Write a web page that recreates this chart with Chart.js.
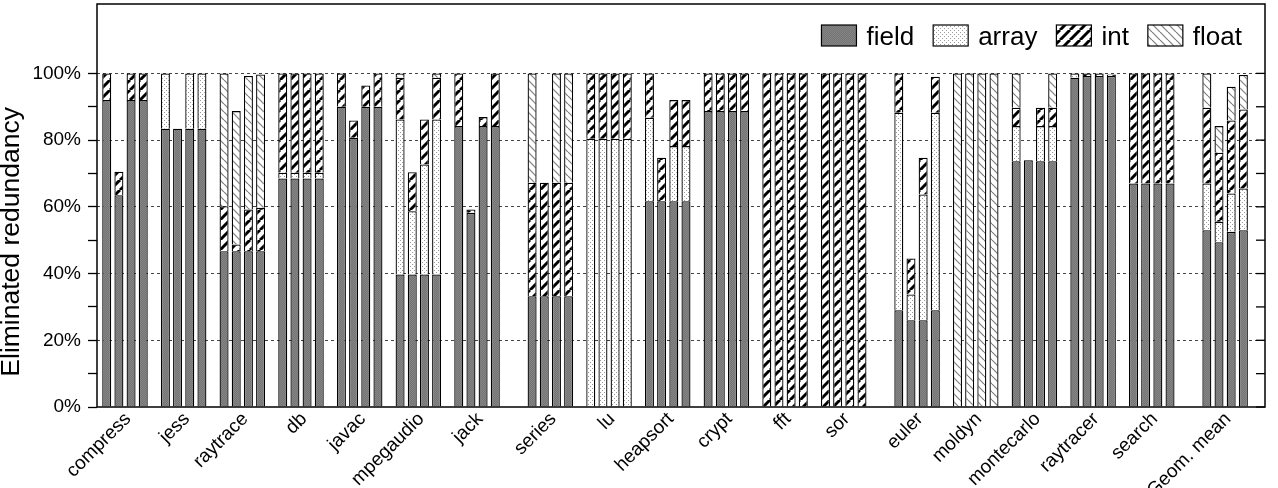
<!DOCTYPE html>
<html>
<head>
<meta charset="utf-8">
<script src="https://cdn.jsdelivr.net/npm/chart.js@4.4.0/dist/chart.umd.min.js"></script>
<style>
  html, body { margin: 0; padding: 0; background: #fff; }
  #wrap { width: 1278px; height: 488px; }
</style>
</head>
<body>
<div id="wrap"><canvas id="chart" width="1278" height="488"></canvas></div>
<script>
// benchmarks, one group of 4 bars each
const benchmarks = ['compress', 'jess', 'raytrace', 'db', 'javac', 'mpegaudio', 'jack',
  'series', 'lu', 'heapsort', 'crypt', 'fft', 'sor',
  'euler', 'moldyn', 'montecarlo', 'raytracer', 'search', 'Geom. mean'];
// suite of each benchmark (a wider gap separates suites)
const suites = [0, 0, 0, 0, 0, 0, 0, 1, 1, 1, 1, 1, 1, 2, 2, 2, 2, 2, 3];
const kinds = ['field', 'array', 'int', 'float'];
const yTicks = [0, 10, 20, 30, 40, 50, 60, 70, 80, 90, 100];
const yTitle = 'Eliminated redundancy';

// eliminated redundancy (%) per kind, 4 bars per benchmark
const fieldVals = [
  [92, 63.5, 92, 92], [83.4, 83.4, 83.4, 83.4], [46.7, 46.7, 46.7, 46.7], [68.5, 68.5, 68.5, 68.5],
  [90, 80.7, 90, 90], [39.7, 39.7, 39.7, 39.7], [84.2, 58.2, 84.2, 84.2],
  [33.2, 33.2, 33.2, 33.2], [0, 0, 0, 0], [61.7, 61.7, 61.7, 61.7], [88.7, 88.7, 88.7, 88.7],
  [0, 0, 0, 0], [0, 0, 0, 0],
  [29, 26, 26, 29], [0, 0, 0, 0], [73.7, 74, 73.7, 73.7], [98.7, 99.2, 99.2, 99.2],
  [67, 67, 67, 67], [53, 49.4, 52.5, 53],
];
const arrayVals = [
  [0, 0, 0, 0], [16.6, 0, 16.6, 16.6], [0, 0, 0, 0], [1.7, 1.7, 1.7, 1.7],
  [0, 0, 0, 0], [46.5, 19, 33, 46.5], [0, 0, 0, 0],
  [0, 0, 0, 0], [80.4, 80.4, 80.4, 80.4], [25, 0, 16.5, 16.5], [0, 0, 0, 0],
  [0, 0, 0, 0], [0, 0, 0, 0],
  [59.2, 7.7, 37.7, 59.2], [0, 0, 0, 0], [10.5, 0, 10.5, 10.5], [1.3, 0, 0, 0],
  [0, 0, 0, 0], [14, 6.1, 11.5, 12.5],
];
const intVals = [
  [8, 7, 8, 8], [0, 0, 0, 0], [13.5, 2, 12.5, 13], [29.8, 29.8, 29.8, 29.8],
  [10, 5.2, 6.4, 10], [12.5, 11.7, 13.5, 12.5], [15.8, 1, 2.7, 15.8],
  [34, 34, 34, 34], [19.6, 19.6, 19.6, 19.6], [13.3, 13, 13.8, 13.8], [11.3, 11.3, 11.3, 11.3],
  [100, 100, 100, 100], [100, 100, 100, 100],
  [11.8, 10.8, 11, 10.8], [0, 0, 0, 0], [5.5, 0, 5.5, 5.5], [0, 0.8, 0.8, 0.5],
  [33, 33, 33, 33], [22.7, 20.7, 21.9, 23.7],
];
const floatVals = [
  [0, 0, 0, 0], [0, 0, 0, 0], [39.8, 40, 40, 40], [0, 0, 0, 0],
  [0, 0, 0, 0], [1.3, 0, 0, 1.3], [0, 0, 0, 0],
  [32.8, 0, 32.8, 32.8], [0, 0, 0, 0], [0, 0, 0, 0], [0, 0, 0, 0],
  [0, 0, 0, 0], [0, 0, 0, 0],
  [0, 0, 0, 0], [100, 100, 100, 100], [10.3, 0, 0, 10.3], [0, 0, 0, 0],
  [0, 0, 0, 0], [10.3, 8, 10.1, 10.3],
];

const FONT = '"Liberation Sans", Arial, Helvetica, sans-serif';

// fill patterns like the gnuplot ones
function makePattern(w, h, draw) {
  const c = document.createElement('canvas');
  c.width = w; c.height = h;
  const g = c.getContext('2d');
  draw(g, w, h);
  return g.createPattern(c, 'repeat');
}
const fills = {
  field: makePattern(2, 2, g => {
    g.fillStyle = '#747474'; g.fillRect(0, 0, 2, 2);
    g.fillStyle = '#858585'; g.fillRect(0, 0, 1, 1); g.fillRect(1, 1, 1, 1);
  }),
  array: makePattern(4, 4, g => {
    g.fillStyle = '#fff'; g.fillRect(0, 0, 4, 4);
    g.fillStyle = '#9a9a9a'; g.fillRect(0, 0, 1, 1); g.fillRect(2, 2, 1, 1);
  }),
  int: makePattern(10, 10, (g, w, h) => {
    g.fillStyle = '#fff'; g.fillRect(0, 0, w, h);
    g.strokeStyle = '#000'; g.lineWidth = 3;
    for (const o of [-w, 0, w]) { g.beginPath(); g.moveTo(o, h); g.lineTo(o + w, 0); g.stroke(); }
  }),
  float: makePattern(8, 8, (g, w, h) => {
    g.fillStyle = '#fff'; g.fillRect(0, 0, w, h);
    g.strokeStyle = '#808080'; g.lineWidth = 1.2;
    for (const o of [-w, 0, w]) { g.beginPath(); g.moveTo(o, 0); g.lineTo(o + w, h); g.stroke(); }
  }),
};

const xPos = benchmarks.map((_, i) => i + suites[i] * 0.25);
const valsByKind = { field: fieldVals, array: arrayVals, int: intVals, float: floatVals };

// one stack per bar slot, bottom to top: field, array, int, float
const datasets = [];
for (let b = 0; b < 4; b++) {
  for (const k of kinds) {
    datasets.push({
      label: k,
      stack: 'bar' + b,
      data: xPos.map((x, i) => ({ x, y: valsByKind[k][i][b] || null })),
      backgroundColor: fills[k],
      borderColor: '#000',
      borderWidth: 1.3,
    });
  }
}

// frame, inward right ticks, y title and legend inside the plot
const framePlugin = {
  id: 'frame',
  afterDraw(chart) {
    const { ctx, chartArea: a } = chart;
    const y = chart.scales.y;
    ctx.save();
    ctx.strokeStyle = '#000';
    ctx.lineWidth = 1.5;
    ctx.strokeRect(a.left, a.top, a.right - a.left, a.bottom - a.top);
    ctx.lineWidth = 1.3;
    y.ticks.forEach(t => {
      const py = y.getPixelForValue(t.value);
      ctx.beginPath(); ctx.moveTo(a.right - 9, py); ctx.lineTo(a.right, py); ctx.stroke();
    });

    // y title, centred a little below the middle like the original
    ctx.save();
    ctx.translate(12, y.getPixelForValue(49.5));
    ctx.rotate(-Math.PI / 2);
    ctx.font = '26.5px ' + FONT;
    ctx.fillStyle = '#000';
    ctx.textAlign = 'center';
    ctx.textBaseline = 'middle';
    ctx.fillText(yTitle, 0, 0);
    ctx.restore();

    // legend
    ctx.font = '26px ' + FONT;
    ctx.textBaseline = 'alphabetic';
    const boxW = 35, boxH = 21, gap = 10, itemGap = 19;
    const widths = kinds.map(k => ctx.measureText(k).width);
    const total = widths.reduce((s, w) => s + boxW + gap + w, 0) + itemGap * (kinds.length - 1);
    let x = a.right - 23 - total;
    const top = a.top + 21;
    kinds.forEach((k, i) => {
      ctx.fillStyle = fills[k];
      ctx.fillRect(x, top, boxW, boxH);
      ctx.strokeStyle = '#000'; ctx.lineWidth = 1.2;
      ctx.strokeRect(x, top, boxW, boxH);
      ctx.fillStyle = '#000';
      ctx.fillText(k, x + boxW + gap, top + boxH - 1);
      x += boxW + gap + widths[i] + itemGap;
    });
    ctx.restore();
  },
};

new Chart(document.getElementById('chart'), {
  type: 'bar',
  data: { datasets },
  plugins: [framePlugin],
  options: {
    responsive: false,
    animation: false,
    categoryPercentage: 0.83,
    barPercentage: 0.74,
    layout: { padding: { top: 4, right: 13, left: 0, bottom: 0 } },
    plugins: { legend: { display: false }, tooltip: { enabled: false } },
    scales: {
      x: {
        type: 'linear',
        min: -0.477,
        max: xPos[xPos.length - 1] + 0.68,
        offset: false,
        grid: { display: false, offset: false },
        border: { display: false },
        afterBuildTicks: axis => { axis.ticks = xPos.map(v => ({ value: v })); },
        afterFit: axis => { axis.height = 81; axis.paddingLeft = 0; axis.paddingRight = 0; },
        ticks: {
          autoSkip: false,
          minRotation: 45,
          maxRotation: 45,
          padding: -7,
          labelOffset: 3,
          color: '#000',
          font: { family: FONT, size: 19 },
          callback: (v, i) => benchmarks[i],
        },
      },
      y: {
        stacked: true,
        min: 0,
        max: 120.8,
        afterBuildTicks: axis => { axis.ticks = yTicks.map(v => ({ value: v })); },
        afterFit: axis => { axis.width = 97; axis.paddingTop = 0; axis.paddingBottom = 0; },
        grid: {
          color: c => (c.tick && c.tick.value > 0 && c.tick.value % 20 === 0) ? '#444' : 'rgba(0,0,0,0)',
          lineWidth: 1,
          tickColor: '#000',
          tickWidth: 1.3,
          tickLength: 9,
        },
        border: { display: false, dash: [3, 3] },
        ticks: {
          padding: 7,
          color: '#000',
          font: { family: FONT, size: 19 },
          callback: v => (v % 20 === 0 ? v + '%' : ''),
        },
      },
    },
  },
});
</script>
</body>
</html>
